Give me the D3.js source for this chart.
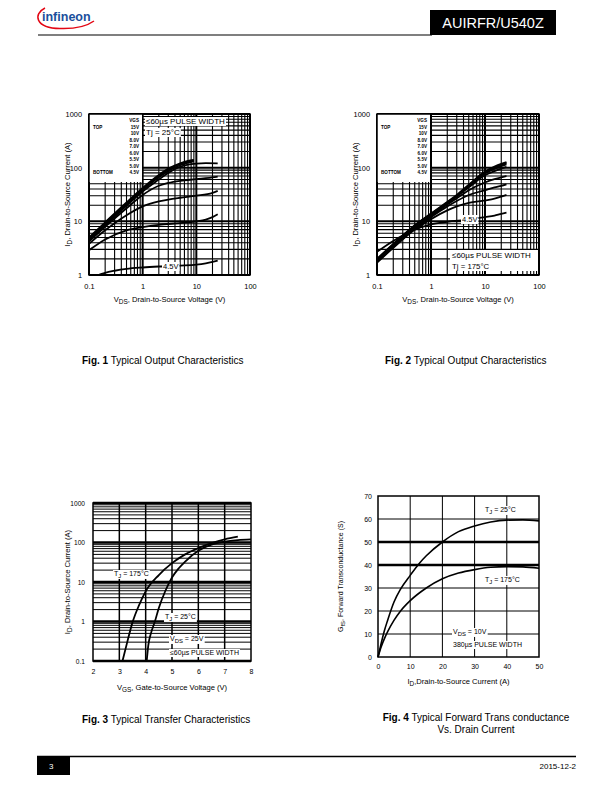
<!DOCTYPE html>
<html><head><meta charset="utf-8">
<script src="https://cdn.jsdelivr.net/npm/d3@7"></script>
<style>body{margin:0;background:#fff} svg{display:block} text{font-family:"Liberation Sans",Arial,sans-serif}</style>
</head><body><svg id="c" width="612" height="792"></svg>
<script>
// ---------- DATA ----------
const vgsLabels = ["15V","10V","8.0V","7.0V","6.0V","5.5V","5.0V","4.5V"];
const vdsTicks = [0.1,1,10,100];
const idTicks12 = [1,10,100,1000];
const vgsTicks = [2,3,4,5,6,7,8];
const idTicks3 = [0.1,1,10,100,1000];
const idTicks4 = [0,10,20,30,40,50];
const gfsTicks = [0,10,20,30,40,50,60,70];

// Fig 1, Tj = 25°C  [VDS, ID]
const f1_15V = [[0.1,5.0],[0.2,9.6],[0.5,22.5],[1,42],[2,73],[3,96],[5,121],[7,134],[9,140]];
const f1_10V = [[0.1,4.8],[0.2,9.2],[0.5,21.5],[1,40],[2,70],[3,92],[5,117],[7,130],[9,136]];
const f1_8V  = [[0.1,4.6],[0.2,8.8],[0.5,20.5],[1,38],[2,66],[3,87],[5,111],[7,124],[9,131]];
const f1_7V  = [[0.1,4.4],[0.2,8.4],[0.5,19.5],[1,36],[2,60],[3,80],[5,104],[7,114],[10,119],[15,121],[25,120]];
const f1_6V  = [[0.1,4.2],[0.2,7.9],[0.5,17.5],[1,31],[2,46],[3,52],[5,57],[10,61],[20,66],[25,68]];
const f1_55V = [[0.1,3.8],[0.2,6.8],[0.5,13],[1,19],[2,23.5],[3,25.5],[5,27.5],[10,30],[20,34],[25,37]];
const f1_5V  = [[0.1,2.9],[0.2,4.6],[0.5,6.8],[1,7.8],[2,8.6],[5,9.3],[10,10],[15,10.8],[20,12],[25,13.5]];
const f1_45V = [[0.1,0.88],[0.15,1.0],[0.2,1.1],[0.3,1.2],[0.5,1.3],[1,1.38],[2,1.44],[5,1.5],[10,1.56],[15,1.65],[20,1.75],[25,1.85]];

// Fig 2, Tj = 175°C  [VDS, ID]
const f2_15V = [[0.1,2.0],[0.2,3.8],[0.5,8.5],[1,14],[2,23],[3,31],[5,48],[10,85],[15,105],[20,118],[25,127]];
const f2_10V = [[0.1,1.95],[0.2,3.7],[0.5,8.3],[1,13.7],[2,22.5],[3,30],[5,47],[10,82],[15,100],[20,113],[25,122]];
const f2_8V  = [[0.1,1.9],[0.2,3.6],[0.5,8.1],[1,13.4],[2,22],[3,29.5],[5,45],[10,78],[15,95],[20,107],[25,115]];
const f2_7V  = [[0.1,1.85],[0.2,3.5],[0.5,7.9],[1,13],[2,21.5],[3,29],[5,43],[10,72],[15,86],[20,96],[25,103]];
const f2_6V  = [[0.1,1.8],[0.2,3.4],[0.5,7.6],[1,12.5],[2,20.5],[3,27],[5,38],[10,53],[15,61],[20,66],[25,70]];
const f2_55V = [[0.1,1.75],[0.2,3.3],[0.5,7.3],[1,12],[2,19],[3,24],[5,31],[10,38],[15,43],[20,46],[25,49]];
const f2_5V  = [[0.1,1.7],[0.2,3.2],[0.5,7],[1,11],[2,16],[3,19],[5,22],[10,24.5],[15,26.5],[20,29],[25,31]];
const f2_45V = [[0.1,2.7],[0.2,4.3],[0.5,7],[1,8.8],[2,9.8],[5,10.8],[10,12],[15,12.8],[20,13.8],[25,14.5]];

// Fig 3 transfer [VGS, ID]
const f3_175C = [[3.12,0.1],[3.3,0.3],[3.5,0.95],[3.75,2.6],[4,5.8],[4.5,15],[5,30],[5.5,50],[6,72],[6.5,96],[7,120],[7.5,140]];
const f3_25C  = [[4.04,0.1],[4.1,0.25],[4.2,0.5],[4.35,1.0],[4.5,2.2],[4.75,6],[5,13],[5.25,22],[5.5,33],[6,62],[6.5,88],[7,105],[7.5,115],[8,120]];

// Fig 4 transconductance [ID, Gfs]
const f4_25C  = [[0,0],[1,6],[2,11.5],[3,16],[5,24],[7,29.5],[10,35.5],[13,41],[15,44],[20,50],[25,54.5],[30,57],[35,58.7],[40,59.5],[45,59.6],[50,59.2]];
const f4_175C = [[0,0],[1,4.5],[2,8],[3,11],[5,16],[7,20],[10,24.5],[15,30],[20,34],[25,36.5],[30,38],[35,39],[40,39.3],[45,39.2],[50,38.6]];

const fig1Curves = [f1_15V,f1_10V,f1_8V,f1_7V,f1_6V,f1_55V,f1_5V,f1_45V];
const fig2Curves = [f2_15V,f2_10V,f2_8V,f2_7V,f2_6V,f2_55V,f2_5V,f2_45V];

// ---------- DRAWING ----------
const svg = d3.select("#c");
const FONT = '"Liberation Sans", Arial, sans-serif';
const CAP = 10, TITLE = 7.6;

function logVals(lo, hi){
  const out=[];
  for(let d=lo; d<hi*0.999; d*=10){
    for(let k=1;k<10;k++) out.push({v:k*d, major:k===1});
  }
  out.push({v:hi, major:true});
  return out;
}

function txt(g, x, y, parts, size, opts={}){
  const t = g.append("text").attr("x",x).attr("y",y).attr("font-size",size)
    .attr("text-anchor",opts.anchor||"start").attr("fill",opts.fill||"#000")
    .style("font-family",FONT);
  if(opts.weight) t.attr("font-weight",opts.weight);
  if(opts.rotate) t.attr("transform",`rotate(-90,${x},${y})`);
  let shifted=false;
  parts.forEach(p=>{
    if(typeof p==="string"){
      const s=t.append("tspan").text(p);
      if(shifted){ s.attr("dy",-size*0.28); shifted=false; }
    } else if(p.sub!==undefined){
      t.append("tspan").attr("dy",size*0.28).attr("font-size",size*0.85).text(p.sub); shifted=true;
    } else if(p.b!==undefined){
      t.append("tspan").attr("font-weight","bold").text(p.b);
    }
  });
  if(opts.bg){
    const b=t.node().getBBox();
    g.insert("rect",()=>t.node()).attr("x",b.x-1).attr("y",b.y).attr("width",b.width+2).attr("height",b.height).attr("fill","#fff");
  }
  return t;
}

function styleAxis(ax, size){
  ax.select(".domain").remove();
  ax.selectAll("text").attr("font-size",size).style("font-family",FONT).attr("fill","#000");
  ax.attr("font-family",null).attr("font-size",null);
}

let clipId=0;
function clip(g,x0,y0,w,h){
  const id="clp"+(clipId++);
  g.append("clipPath").attr("id",id).append("rect").attr("x",x0).attr("y",y0).attr("width",w).attr("height",h);
  return "url(#"+id+")";
}

function outputChart(cfg){
  const g = svg.append("g");
  const x = d3.scaleLog().domain([0.1,100]).range([cfg.x0,cfg.x1]);
  const y = d3.scaleLog().domain([1,1000]).range([cfg.y1,cfg.y0]);
  const gv = logVals(0.1,100), hv = logVals(1,1000);
  g.append("g").selectAll("line").data(gv).join("line")
    .attr("x1",d=>x(d.v)).attr("x2",d=>x(d.v)).attr("y1",cfg.y0).attr("y2",cfg.y1)
    .attr("stroke","#000").attr("stroke-width",d=>d.major?2:1.1);
  g.append("g").selectAll("line").data(hv).join("line")
    .attr("y1",d=>y(d.v)).attr("y2",d=>y(d.v)).attr("x1",cfg.x0).attr("x2",cfg.x1)
    .attr("stroke","#000").attr("stroke-width",d=>d.major?2:1.1);
  // legend mask
  g.append("rect").attr("x",cfg.x0).attr("y",cfg.y0).attr("width",53).attr("height",68).attr("fill","#fff");
  if(cfg.box) g.append("rect").attr("x",cfg.box[0]).attr("y",cfg.box[1]).attr("width",cfg.box[2]).attr("height",cfg.box[3]).attr("fill","#fff");
  // curves
  const cp = clip(g,cfg.x0,cfg.y0,cfg.x1-cfg.x0,cfg.y1-cfg.y0);
  const line = d3.line().x(d=>x(d[0])).y(d=>y(d[1])).curve(d3.curveMonotoneX);
  g.append("g").attr("clip-path",cp).selectAll("path").data(cfg.curves).join("path")
    .attr("d",line).attr("fill","none").attr("stroke","#000").attr("stroke-width",1.8);
  // notes (white background, over curves)
  cfg.notes.forEach(n=>txt(g, n[0], n[1], [n[2]], n[3], {bg:true}));
  // border
  g.append("rect").attr("x",cfg.x0).attr("y",cfg.y0).attr("width",cfg.x1-cfg.x0).attr("height",cfg.y1-cfg.y0)
    .attr("fill","none").attr("stroke","#000").attr("stroke-width",1.5);
  // legend text
  const lg = g.append("g");
  txt(lg, cfg.x0+50, cfg.y0+8, ["VGS"], 4.6, {anchor:"end", weight:"bold"});
  vgsLabels.forEach((l,i)=>txt(lg, cfg.x0+50, cfg.y0+14.5+i*6.5, [l], 4.6, {anchor:"end", weight:"bold"}));
  txt(lg, cfg.x0+4, cfg.y0+14.5, ["TOP"], 4.6, {weight:"bold"});
  txt(lg, cfg.x0+4, cfg.y0+14.5+7*6.5, ["BOTTOM"], 4.6, {weight:"bold"});
  // axes
  const ax = g.append("g").attr("transform",`translate(0,${cfg.y1})`)
    .call(d3.axisBottom(x).tickValues(vdsTicks).tickFormat(d=>String(d)).tickSize(0).tickPadding(8.5));
  styleAxis(ax,7.4);
  const ay = g.append("g").attr("transform",`translate(${cfg.x0},0)`)
    .call(d3.axisLeft(y).tickValues(idTicks12).tickFormat(d=>String(d)).tickSize(0).tickPadding(7));
  styleAxis(ay,7.4);
  txt(g, (cfg.x0+cfg.x1)/2, cfg.y1+27, ["V",{sub:"DS"},", Drain-to-Source Voltage (V)"], TITLE, {anchor:"middle"});
  txt(g, cfg.x0-19, (cfg.y0+cfg.y1)/2, ["I",{sub:"D"},", Drain-to-Source Current (A)"], TITLE, {anchor:"middle", rotate:true});
  txt(g, cfg.capX, cfg.capY, [{b:"Fig. "+cfg.num}," Typical Output Characteristics"], CAP);
}

outputChart({x0:89,x1:250,y0:114,y1:275,curves:fig1Curves,num:1,capX:82,capY:364,
  notes:[[146,124,"≤60µs PULSE WIDTH",8],[146,135,"Tj = 25°C",8],[163,269,"4.5V",7.5]]});
outputChart({x0:377,x1:539,y0:114,y1:275,curves:fig2Curves,num:2,capX:385,capY:364,box:[450,250,88,21],
  notes:[[452,258,"≤60µs PULSE WIDTH",8],[452,269,"Tj = 175°C",7.8],[462,222,"4.5V",7.5]]});

// Fig 3
(function(){
  const g = svg.append("g");
  const X0=93,X1=251,Y0=503,Y1=661;
  const x = d3.scaleLinear().domain([2,8]).range([X0,X1]);
  const y = d3.scaleLog().domain([0.1,1000]).range([Y1,Y0]);
  const hv = logVals(0.1,1000);
  g.append("g").selectAll("line").data(hv).join("line")
    .attr("y1",d=>y(d.v)).attr("y2",d=>y(d.v)).attr("x1",X0).attr("x2",X1)
    .attr("stroke","#000").attr("stroke-width",d=>d.major?2.4:1);
  g.append("g").selectAll("line").data(vgsTicks.slice(1,-1)).join("line")
    .attr("x1",d=>x(d)).attr("x2",d=>x(d)).attr("y1",Y0).attr("y2",Y1)
    .attr("stroke","#000").attr("stroke-width",1.5);
  const cp = clip(g,X0,Y0,X1-X0,Y1-Y0);
  const line = d3.line().x(d=>x(d[0])).y(d=>y(d[1])).curve(d3.curveMonotoneX);
  txt(g,114,576,["T",{sub:"J"}," = 175°C"],7,{bg:true});
  txt(g,165,619,["T",{sub:"J"}," = 25°C"],7,{bg:true});
  txt(g,170,641,["V",{sub:"DS"}," = 25V"],7,{bg:true});
  txt(g,170,655,["≤60µs PULSE WIDTH"],7,{bg:true});
  g.append("g").attr("clip-path",cp).selectAll("path").data([f3_175C,f3_25C]).join("path")
    .attr("d",line).attr("fill","none").attr("stroke","#000").attr("stroke-width",1.8);
  g.append("rect").attr("x",X0).attr("y",Y0).attr("width",X1-X0).attr("height",Y1-Y0)
    .attr("fill","none").attr("stroke","#000").attr("stroke-width",1.5);
  const ax = g.append("g").attr("transform",`translate(0,${Y1})`)
    .call(d3.axisBottom(x).tickValues(vgsTicks).tickFormat(d3.format("d")).tickSize(0).tickPadding(8));
  styleAxis(ax,7);
  const ay = g.append("g").attr("transform",`translate(${X0},0)`)
    .call(d3.axisLeft(y).tickValues(idTicks3).tickFormat(d=>String(d)).tickSize(0).tickPadding(8));
  styleAxis(ay,6.6);
  txt(g,(X0+X1)/2,690,["V",{sub:"GS"},", Gate-to-Source Voltage (V)"],TITLE,{anchor:"middle"});
  txt(g,70,(Y0+Y1)/2,["I",{sub:"D"},", Drain-to-Source Current (A)"],TITLE,{anchor:"middle",rotate:true});
  txt(g,82,723,[{b:"Fig. 3"}," Typical Transfer Characteristics"],CAP);
})();

// Fig 4
(function(){
  const g = svg.append("g");
  const X0=378,X1=539,Y0=496,Y1=657;
  const x = d3.scaleLinear().domain([0,50]).range([X0,X1]);
  const y = d3.scaleLinear().domain([0,70]).range([Y1,Y0]);
  g.append("g").selectAll("line").data(gfsTicks.slice(1,-1)).join("line")
    .attr("y1",d=>y(d)).attr("y2",d=>y(d)).attr("x1",X0).attr("x2",X1)
    .attr("stroke","#000").attr("stroke-width",d=>(d===40||d===50)?2.5:1);
  g.append("g").selectAll("line").data(idTicks4.slice(1,-1)).join("line")
    .attr("x1",d=>x(d)).attr("x2",d=>x(d)).attr("y1",Y0).attr("y2",Y1)
    .attr("stroke","#000").attr("stroke-width",1);
  txt(g,485,512,["T",{sub:"J"}," = 25°C"],7,{bg:true});
  txt(g,485,582,["T",{sub:"J"}," = 175°C"],7,{bg:true});
  txt(g,453,634,["V",{sub:"DS"}," = 10V"],7,{bg:true});
  txt(g,453,647,["380µs PULSE WIDTH"],7,{bg:true});
  const line = d3.line().x(d=>x(d[0])).y(d=>y(d[1])).curve(d3.curveMonotoneX);
  g.append("g").selectAll("path").data([f4_25C,f4_175C]).join("path")
    .attr("d",line).attr("fill","none").attr("stroke","#000").attr("stroke-width",1.6);
  g.append("rect").attr("x",X0).attr("y",Y0).attr("width",X1-X0).attr("height",Y1-Y0)
    .attr("fill","none").attr("stroke","#000").attr("stroke-width",1.5);
  const ax = g.append("g").attr("transform",`translate(0,${Y1})`)
    .call(d3.axisBottom(x).tickValues(idTicks4).tickFormat(d3.format("d")).tickSize(0).tickPadding(7));
  styleAxis(ax,7);
  const ay = g.append("g").attr("transform",`translate(${X0},0)`)
    .call(d3.axisLeft(y).tickValues(gfsTicks).tickFormat(d3.format("d")).tickSize(0).tickPadding(6));
  styleAxis(ay,7);
  txt(g,(X0+X1)/2,684,["I",{sub:"D"},",Drain-to-Source Current (A)"],TITLE,{anchor:"middle"});
  txt(g,343,(Y0+Y1)/2,["G",{sub:"fS"},", Forward Transconductance (S)"],7,{anchor:"middle",rotate:true});
  txt(g,476,721,[{b:"Fig. 4"}," Typical Forward Trans conductance"],CAP,{anchor:"middle"});
  txt(g,476,733,["Vs. Drain Current"],CAP,{anchor:"middle"});
})();

// Header & footer
(function(){
  const g = svg.append("g");
  g.append("path").attr("d","M45,8 C33,14 35,28 60,28.5 C75,29 87,26 94,21")
    .attr("fill","none").attr("stroke","#e30613").attr("stroke-width",1.5);
  txt(g,42,21,["infineon"],12.5,{fill:"#1a4f9c",weight:"bold"});
  g.append("line").attr("x1",38).attr("x2",432).attr("y1",35).attr("y2",35).attr("stroke","#000").attr("stroke-width",1.2);
  g.append("rect").attr("x",430).attr("y",10).attr("width",126).attr("height",25).attr("fill","#000");
  txt(g,493,28,["AUIRFR/U540Z"],14.5,{anchor:"middle",fill:"#fff"});
  g.append("line").attr("x1",37).attr("x2",576).attr("y1",756.5).attr("y2",756.5).attr("stroke","#000").attr("stroke-width",1.5);
  g.append("rect").attr("x",37).attr("y",756).attr("width",33).attr("height",19).attr("fill","#000");
  txt(g,49,769,["3"],8,{fill:"#fff"});
  txt(g,576,769,["2015-12-2"],8,{anchor:"end"});
})();
</script></body></html>
